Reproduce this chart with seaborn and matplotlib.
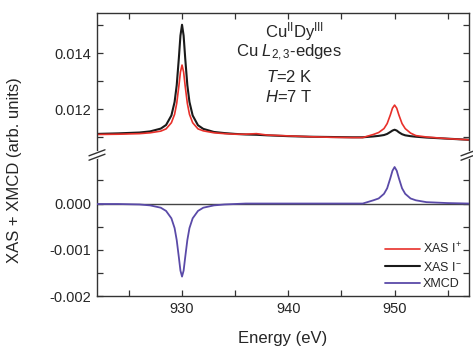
import numpy as np
import pandas as pd
import matplotlib
matplotlib.use("Agg")
import matplotlib.pyplot as plt
from matplotlib.lines import Line2D
import seaborn as sns

# ---------------- data ----------------
energy = [922, 924, 926, 927, 928, 928.5, 929, 929.3, 929.5, 929.7, 929.85, 930,
          930.15, 930.3, 930.5, 930.7, 931, 931.5, 932, 933, 934, 935, 936, 937,
          938, 940, 942, 944, 946, 947, 948, 948.5, 949, 949.3, 949.6, 949.8, 950,
          950.2, 950.4, 950.7, 951, 951.5, 952, 953, 954, 955, 957]

xas_minus = [0.01111, 0.01113, 0.01116, 0.01120, 0.01130, 0.01143, 0.01177, 0.01225,
             0.01285, 0.01381, 0.01462, 0.01501, 0.01462, 0.01381, 0.01285, 0.01225,
             0.01177, 0.01142, 0.01129, 0.01118, 0.01114, 0.01111, 0.01109, 0.01108,
             0.01106, 0.01103, 0.01101, 0.01100, 0.01099, 0.01099, 0.01102, 0.01104,
             0.01107, 0.01111, 0.01118, 0.01123, 0.01126, 0.01123, 0.01117, 0.01110,
             0.01106, 0.01103, 0.01101, 0.01098, 0.01096, 0.01094, 0.01090]

xas_plus = [0.01109, 0.01110, 0.01112, 0.01115, 0.01121, 0.01129, 0.01151, 0.01181,
            0.01220, 0.01281, 0.01332, 0.01357, 0.01332, 0.01281, 0.01220, 0.01181,
            0.01151, 0.01129, 0.01122, 0.01115, 0.01112, 0.01110, 0.01110, 0.01112,
            0.01107, 0.01104, 0.01101, 0.01099, 0.01098, 0.01098, 0.01109, 0.01116,
            0.01130, 0.01148, 0.01179, 0.01203, 0.01214, 0.01203, 0.01179, 0.01148,
            0.01130, 0.01114, 0.01105, 0.01100, 0.01097, 0.01094, 0.01090]

xmcd = [-0.00001, -0.00001, -0.00002, -0.00004, -0.00009, -0.00016, -0.00032, -0.00053,
        -0.00079, -0.00116, -0.00145, -0.00158, -0.00145, -0.00116, -0.00079, -0.00053,
        -0.00032, -0.00016, -0.00009, -0.00004, -0.00002, -0.00001, 0.0, 0.0,
        0.0, 0.0, 0.0, 0.0, 0.0, 0.0, 0.00007, 0.00011,
        0.00021, 0.00033, 0.00055, 0.00071, 0.00079, 0.00071, 0.00055, 0.00033,
        0.00021, 0.00011, 0.00007, 0.00003, 0.00002, 0.00001, 0.0]

x_ticks = [930, 940, 950]
upper_yticks = [0.012, 0.014]
upper_ylabels = ["0.012", "0.014"]
lower_yticks = [-0.002, -0.001, 0.000]
lower_ylabels = ["-0.002", "-0.001", "0.000"]
legend_labels = ["XAS I$^{+}$", "XAS I$^{-}$", "XMCD"]

# ---------------- style ----------------
sns.set_theme(style="ticks")
plt.rcParams["font.family"] = ["Liberation Sans", "DejaVu Sans"]
plt.rcParams["mathtext.fontset"] = "custom"
plt.rcParams["mathtext.rm"] = "Liberation Sans"
plt.rcParams["mathtext.it"] = "Liberation Sans:italic"
plt.rcParams["mathtext.bf"] = "Liberation Sans:bold"

RED = "#e8302a"
BLACK = "#1a1a1a"
PURPLE = "#5a4aa8"
SPINE = "#333333"

df = pd.DataFrame({"energy": energy, "plus": xas_plus, "minus": xas_minus, "xmcd": xmcd})

W, H = 473, 348
fig = plt.figure(figsize=(W / 100, H / 100), dpi=100)
left, right = 97 / W, 469 / W
top, bottom = 1 - 13 / H, 1 - 296 / H
brk = 1 - 155 / H
ax_u = fig.add_axes([left, brk, right - left, top - brk])
ax_l = fig.add_axes([left, bottom, right - left, brk - bottom])

sns.lineplot(data=df, x="energy", y="minus", ax=ax_u, color=BLACK, lw=1.5)
sns.lineplot(data=df, x="energy", y="plus", ax=ax_u, color=RED, lw=1.2)
ax_l.axhline(0, color="#444444", lw=1.0, zorder=1)
sns.lineplot(data=df, x="energy", y="xmcd", ax=ax_l, color=PURPLE, lw=1.3, zorder=3)

for ax in (ax_u, ax_l):
    ax.set_xlim(922, 957)
    ax.set_xlabel("")
    ax.set_ylabel("")
    ax.set_xticks(x_ticks)
    ax.set_xticks([925, 935, 945, 955], minor=True)
    ax.tick_params(which="both", direction="in", top=True, right=True,
                   length=4, width=0.9, color=SPINE, labelsize=10.5, pad=4)
    for s in ax.spines.values():
        s.set_color(SPINE)
        s.set_linewidth(1.0)
    ax.set_facecolor("none")

ax_u.set_ylim(0.010357, 0.01543)
ax_u.set_yticks(upper_yticks)
ax_u.set_yticklabels(upper_ylabels)
ax_u.set_yticks([0.011, 0.013, 0.015], minor=True)
ax_u.spines["bottom"].set_visible(False)
ax_u.tick_params(which="both", bottom=False, labelbottom=False)

ax_l.set_ylim(-0.002, 0.00105)
ax_l.set_yticks(lower_yticks)
ax_l.set_yticklabels(lower_ylabels)
ax_l.set_yticks([-0.0015, -0.0005, 0.0005], minor=True)
ax_l.spines["top"].set_visible(False)
ax_l.tick_params(which="both", top=False)
ax_l.set_xticklabels([str(v) for v in x_ticks])

# break marks on left and right spines (with a white gap cut in the spine)
for xs in (left, right):
    fig.add_artist(Line2D([xs, xs], [brk - 2 / H, brk + 2 / H],
                          transform=fig.transFigure, color="white", lw=3, zorder=10))
    for dy in (-2.2, 2.2):
        yc = brk + dy / H
        fig.add_artist(Line2D([xs - 8 / W, xs + 8 / W], [yc - 3 / H, yc + 3 / H],
                              transform=fig.transFigure, color=SPINE, lw=1.0, zorder=11))

# legend
handles = [Line2D([], [], color=RED, lw=1.2),
           Line2D([], [], color=BLACK, lw=1.5),
           Line2D([], [], color=PURPLE, lw=1.3)]
ax_l.legend(handles, legend_labels, loc="lower right", frameon=False, fontsize=9,
            handlelength=2.8, handletextpad=0.2, labelspacing=0.35,
            borderaxespad=0.2, bbox_to_anchor=(1.0, -0.01))

# annotation
fig.text(294 / W, 1 - 32 / H, r"Cu$^{\mathrm{II}}$Dy$^{\mathrm{III}}$",
         ha="center", va="center", fontsize=12)
fig.text(289 / W, 1 - 53 / H, r"Cu $L_{2,3}$-edges", ha="center", va="center", fontsize=12)
fig.text(289 / W, 1 - 77 / H, r"$T$=2 K", ha="center", va="center", fontsize=12)
fig.text(289 / W, 1 - 97 / H, r"$H$=7 T", ha="center", va="center", fontsize=12)

fig.text(283 / W, 1 - 338 / H, "Energy (eV)", ha="center", va="center", fontsize=12)
fig.text(15 / W, 1 - 170 / H, "XAS + XMCD (arb. units)", ha="center", va="center",
         rotation=90, fontsize=12)

fig.savefig("out.png", dpi=100, facecolor="white")
